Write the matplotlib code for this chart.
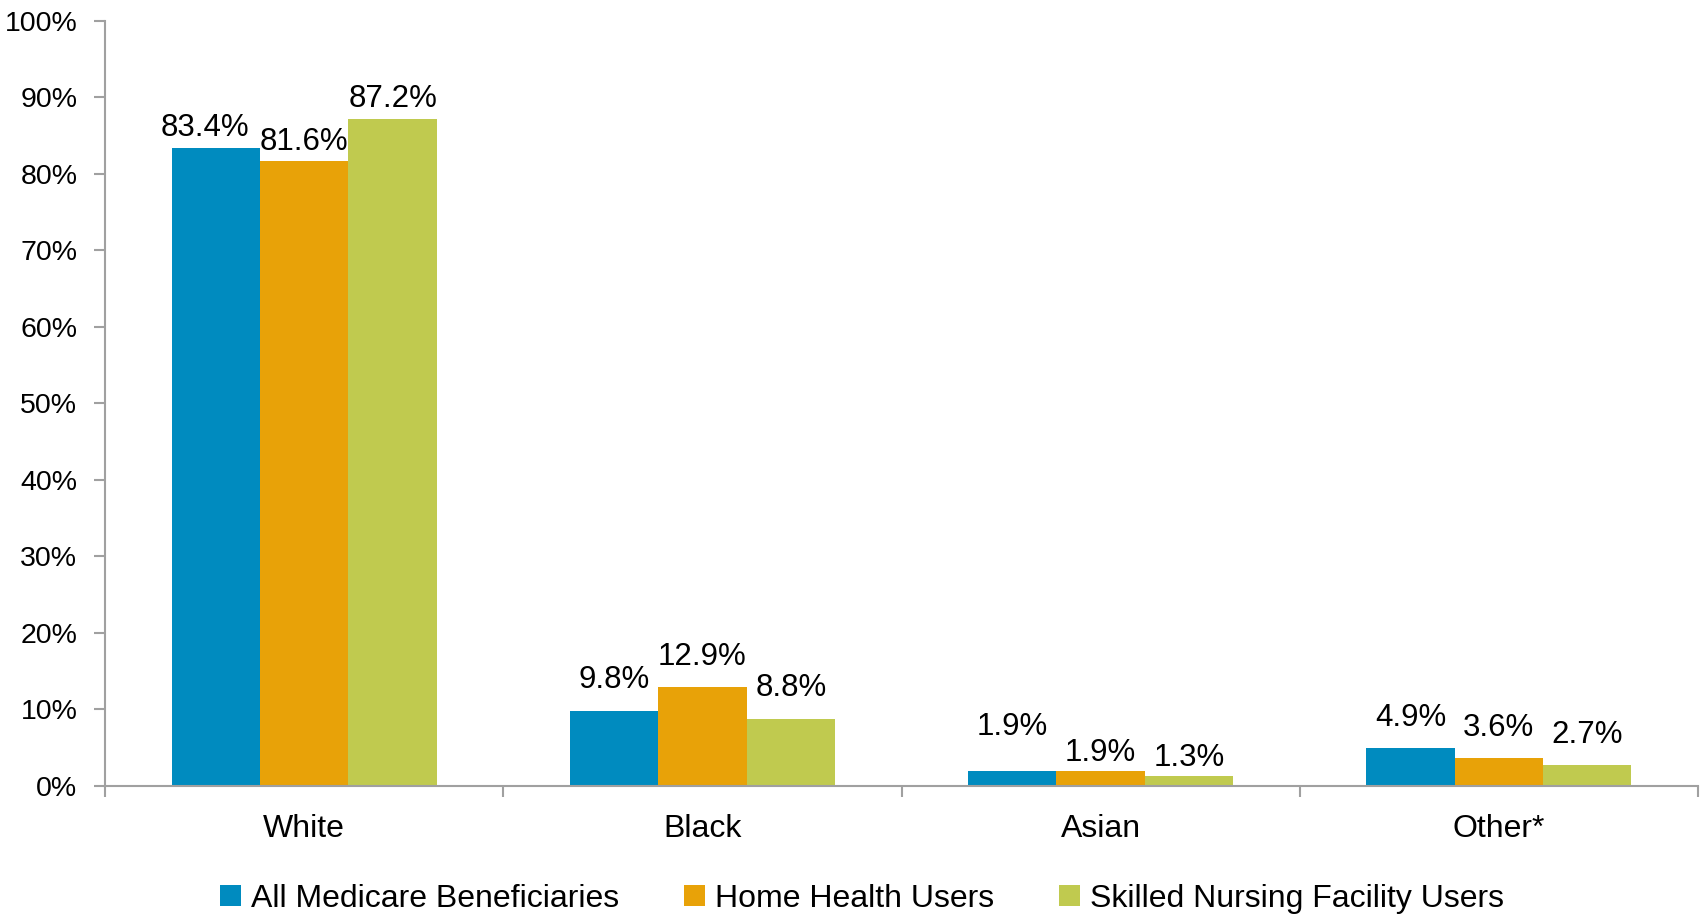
import numpy as np
import matplotlib.pyplot as plt
from matplotlib.ticker import FuncFormatter, FixedLocator

plt.rcParams['font.family'] = ['Liberation Sans', 'DejaVu Sans']

# data
categories = ['White', 'Black', 'Asian', 'Other*']
series_names = ['All Medicare Beneficiaries', 'Home Health Users', 'Skilled Nursing Facility Users']
all_bene = [83.4, 9.8, 1.9, 4.9]
home_health = [81.6, 12.9, 1.9, 3.6]
snf_users = [87.2, 8.8, 1.3, 2.7]

colors = ['#008BBF', '#E8A208', '#C0CA4F']
series = [all_bene, home_health, snf_users]

# label offsets in points (dy above bar top, dx sideways); a few nudged to avoid collisions
label_dy = np.full((3, 4), 22.0)
label_dy[:, 0] = 14
label_dy[0, 2] = 32
label_dy[1, 2] = 13
label_dy[2, 2] = 13
label_dx = np.zeros((3, 4))
label_dx[0, 0] = -8

fig = plt.figure(figsize=(17, 9.15), dpi=100)
ax = fig.add_axes([0.0618, 0.141, 0.937, 0.8365])

x = np.arange(len(categories))
w = 0.222
for i, (vals, name, c) in enumerate(zip(series, series_names, colors)):
    xs = x + (i - 1) * w
    ax.bar(xs, vals, width=w, color=c, label=name, linewidth=0)
    for j, (xx, v) in enumerate(zip(xs, vals)):
        ax.annotate(f'{v:.1f}%', (xx, v), xytext=(label_dx[i, j], label_dy[i, j]),
                    textcoords='offset points', ha='center', va='center',
                    fontsize=22.5, color='black')

ax.set_xlim(-0.5, 3.5)
ax.set_ylim(0, 100)
ax.set_yticks(np.arange(0, 101, 10))
ax.yaxis.set_major_formatter(FuncFormatter(lambda v, p: f'{int(v)}%'))

ax.set_xticks(x)
ax.set_xticklabels(categories, fontsize=23)
ax.xaxis.set_minor_locator(FixedLocator(np.arange(-0.5, 3.6, 1.0)))
ax.tick_params(axis='x', which='major', length=0, pad=20)
ax.tick_params(axis='x', which='minor', length=8, width=1.5, color='#A0A0A0', direction='out')
ax.tick_params(axis='y', length=8, width=1.5, color='#A0A0A0', labelsize=20.5, pad=12)

for s in ['top', 'right']:
    ax.spines[s].set_visible(False)
for s in ['left', 'bottom']:
    ax.spines[s].set_color('#A0A0A0')
    ax.spines[s].set_linewidth(1.5)

fig.legend(loc='center', bbox_to_anchor=(0.507, 0.018), ncol=3, frameon=False,
           fontsize=23, handlelength=0.65, handleheight=0.65, handletextpad=0.3,
           columnspacing=2.05)

fig.savefig('out.png', dpi=100)
